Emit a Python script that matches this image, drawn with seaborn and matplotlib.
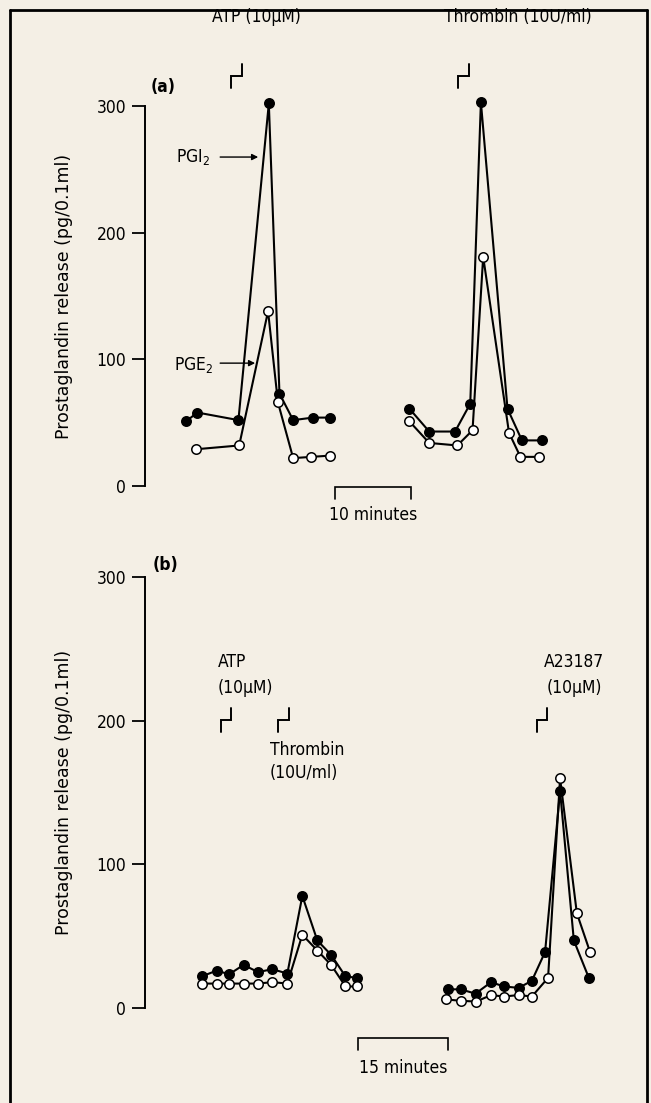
import numpy as np
import pandas as pd
import matplotlib
matplotlib.use("Agg")
import matplotlib.pyplot as plt
import seaborn as sns

# ---------------- data (time in minutes, release in pg/0.1ml) ----------------
# Panel (a)
a_left_t_pgi2 = [0, 1.5, 6.9, 10.9, 12.3, 14.1, 16.7, 18.9]
a_left_pgi2 = [51, 58, 52, 302, 73, 52, 54, 54]
a_left_t_pge2 = [1.3, 7.0, 10.8, 12.1, 14.1, 16.5, 19.0]
a_left_pge2 = [29, 32, 138, 66, 22, 23, 24]
a_right_t_pgi2 = [29.4, 32.0, 35.4, 37.4, 38.8, 42.3, 44.2, 46.8]
a_right_pgi2 = [61, 43, 43, 65, 303, 61, 36, 36]
a_right_t_pge2 = [29.4, 32.0, 35.7, 37.7, 39.1, 42.5, 44.0, 46.5]
a_right_pge2 = [51, 34, 32, 44, 181, 42, 23, 23]

# Panel (b)
b_left_t = [0, 2.5, 4.6, 7.0, 9.4, 11.8, 14.3, 16.8, 19.3, 21.6, 24.0, 25.9]
b_left_pgi2 = [22, 26, 23.5, 30, 25, 27, 24, 78, 47, 37, 22, 21]
b_left_pge2 = [17, 17, 17, 17, 17, 18, 17, 51, 40, 30, 15, 15]
b_right_t_pgi2 = [41.1, 43.2, 45.7, 48.3, 50.4, 52.9, 55.1, 57.3, 59.8, 62.1, 64.6]
b_right_pgi2 = [13, 13, 10, 18, 15, 14, 19, 39, 151, 47, 21]
b_right_t_pge2 = [40.8, 43.2, 45.8, 48.3, 50.4, 52.9, 55.1, 57.8, 59.8, 62.6, 64.8]
b_right_pge2 = [6, 5, 4.5, 9, 8, 9, 8, 21, 160, 66, 39]

y_ticks = [0, 100, 200, 300]
y_label = "Prostaglandin release (pg/0.1ml)"

# ---------------- style ----------------
sns.set_theme(style="white")
BG = "#f4efe5"
plt.rcParams["font.family"] = ["DejaVu Sans"]
plt.rcParams["font.stretch"] = "condensed"
plt.rcParams["text.color"] = "black"
plt.rcParams["axes.labelcolor"] = "black"
plt.rcParams["axes.facecolor"] = BG
plt.rcParams["figure.facecolor"] = BG

W, H = 651, 1103
fig = plt.figure(figsize=(W / 100, H / 100), dpi=100)


def px_axes(left, top, right, bottom):
    return fig.add_axes([left / W, 1 - bottom / H, (right - left) / W, (bottom - top) / H])


ax_a = px_axes(145, 106, 620, 486)
ax_b = px_axes(145, 577, 620, 1008)

FS = 12.5
TXT = dict(fontsize=FS, fontstretch="condensed", color="black")


def style_axis(ax, xlim):
    ax.set_facecolor("none")
    ax.set_ylim(0, 300)
    ax.set_xlim(*xlim)
    ax.set_yticks(y_ticks)
    ax.set_yticklabels([str(v) for v in y_ticks], fontsize=FS, fontstretch="condensed")
    ax.set_xticks([])
    for s in ["top", "right", "bottom"]:
        ax.spines[s].set_visible(False)
    ax.spines["left"].set_color("black")
    ax.spines["left"].set_linewidth(1.4)
    ax.tick_params(axis="y", direction="out", length=9.5, width=1.3, pad=4, colors="black", left=True)


style_axis(ax_a, (-5.39, 57.1))
style_axis(ax_b, (-9.45, 69.8))


def series(ax, t, v, filled):
    df = pd.DataFrame({"t": t, "v": v})
    sns.lineplot(data=df, x="t", y="v", ax=ax, sort=False, estimator=None,
                 color="black", linewidth=1.5, marker="o", markersize=6.8,
                 markeredgecolor="black", markeredgewidth=1.1,
                 markerfacecolor="black" if filled else "white",
                 zorder=3 if filled else 4, clip_on=False)


for ax, groups in [
    (ax_a, [(a_left_t_pgi2, a_left_pgi2, True), (a_left_t_pge2, a_left_pge2, False),
            (a_right_t_pgi2, a_right_pgi2, True), (a_right_t_pge2, a_right_pge2, False)]),
    (ax_b, [(b_left_t, b_left_pgi2, True), (b_left_t, b_left_pge2, False),
            (b_right_t_pgi2, b_right_pgi2, True), (b_right_t_pge2, b_right_pge2, False)]),
]:
    for t, v, f in groups:
        series(ax, t, v, f)
    ax.set_xlabel("")
    ax.set_ylabel(y_label, fontsize=12.5, color="black", fontstretch="normal")
    ax.yaxis.set_label_coords(-72 / 475, 0.5)


def step_marker(ax, x0, x1, ytop, ymid, ybot):
    ax.plot([x0, x0, x1, x1], [ybot, ymid, ymid, ytop], color="black", lw=1.4,
            clip_on=False, solid_joinstyle="miter")


def scale_bar(ax, x0, x1, y, ytick, ytext, label):
    ax.plot([x0, x0, x1, x1], [ytick, y, y, ytick], color="black", lw=1.2, clip_on=False,
            solid_joinstyle="miter")
    ax.text((x0 + x1) / 2, ytext, label, ha="center", va="center", clip_on=False, **TXT)


# ---- panel (a) annotations ----
ax_a.text(9.3, 370, "ATP (10μM)", ha="center", va="center", **TXT)
ax_a.text(43.7, 370, "Thrombin (10U/ml)", ha="center", va="center", **TXT)
step_marker(ax_a, 5.92, 7.37, 333, 323.6, 314.1)
step_marker(ax_a, 35.8, 37.2, 333, 323.6, 314.1)
ax_a.text(-3.0, 315, "(a)", ha="center", va="center", fontweight="bold", **TXT)
ax_a.text(3.2, 259.7, "PGI$_2$", ha="right", va="center", **TXT)
ax_a.annotate("", xy=(9.5, 259.7), xytext=(4.5, 259.7),
              arrowprops=dict(arrowstyle="-|>", color="black", lw=1.0, mutation_scale=9,
                              shrinkA=0, shrinkB=0))
ax_a.text(3.6, 95.5, "PGE$_2$", ha="right", va="center", **TXT)
ax_a.annotate("", xy=(9.1, 97), xytext=(4.5, 97),
              arrowprops=dict(arrowstyle="-|>", color="black", lw=1.0, mutation_scale=9,
                              shrinkA=0, shrinkB=0))
scale_bar(ax_a, 19.6, 29.6, -0.8, -10.3, -22.9, "10 minutes")

# ---- panel (b) annotations ----
ax_b.text(-5.95, 308.7, "(b)", ha="center", va="center", fontweight="bold", **TXT)
ax_b.text(2.7, 241, "ATP", ha="left", va="center", **TXT)
ax_b.text(2.6, 223, "(10μM)", ha="left", va="center", **TXT)
step_marker(ax_b, 3.17, 4.83, 209, 200.7, 191.8)
step_marker(ax_b, 12.8, 14.55, 209, 200.7, 191.8)
ax_b.text(11.4, 179.8, "Thrombin", ha="left", va="center", **TXT)
ax_b.text(11.4, 163.8, "(10U/ml)", ha="left", va="center", **TXT)
ax_b.text(62.2, 241, "A23187", ha="center", va="center", **TXT)
ax_b.text(62.2, 223, "(10μM)", ha="center", va="center", **TXT)
step_marker(ax_b, 55.9, 57.6, 209, 200.7, 191.8)
scale_bar(ax_b, 26.1, 41.1, -20.9, -29.3, -41.8, "15 minutes")

# ---- outer frame ----
frame_kw = dict(color="black", lw=2.0, transform=fig.transFigure)
fig.add_artist(plt.Line2D([10 / W, 10 / W], [0, 1 - 10 / H], **frame_kw))
fig.add_artist(plt.Line2D([10 / W, 647 / W], [1 - 10 / H, 1 - 10 / H], **frame_kw))
fig.add_artist(plt.Line2D([647 / W, 647 / W], [0, 1 - 10 / H], **frame_kw))

fig.savefig("out.png", dpi=100, facecolor=BG)
